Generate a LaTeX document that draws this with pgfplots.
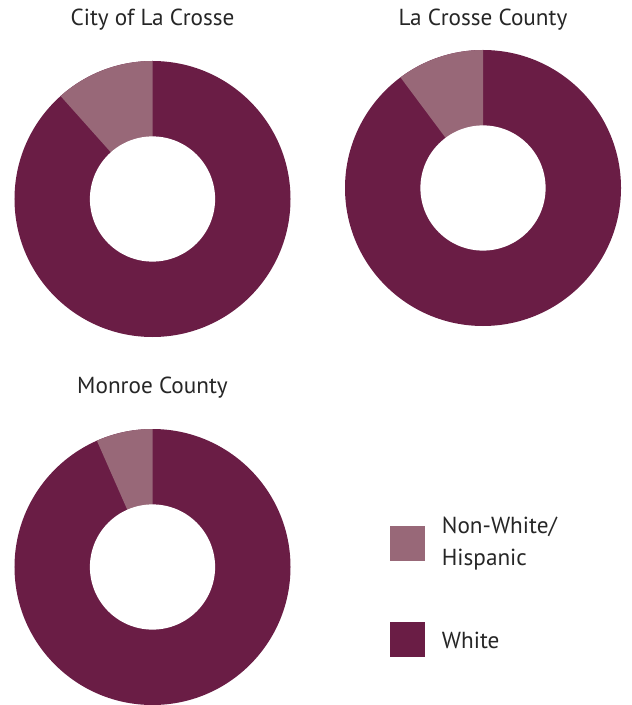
\documentclass[border=0pt]{standalone}
\usepackage{pgfplots}
\pgfplotsset{compat=1.18}
\usepackage{pgfplotstable}
\usepackage{fontspec}
\setmainfont{PT Sans}

\definecolor{whitecol}{HTML}{6A1D45}
\definecolor{nonwhitecol}{HTML}{986878}

% share of population, percent
\pgfplotstableread{
region nonwhite white
City 11.6 88.4
County 10.2 89.8
Monroe 6.6 93.4
}\shares

\pgfplotstablegetelem{0}{nonwhite}\of\shares \edef\shA{\pgfplotsretval}
\pgfplotstablegetelem{1}{nonwhite}\of\shares \edef\shB{\pgfplotsretval}
\pgfplotstablegetelem{2}{nonwhite}\of\shares \edef\shC{\pgfplotsretval}

\pgfplotsset{donut/.style={
    scale only axis, hide axis, clip=false, anchor=center,
    width=138pt, height=138pt,
    xmin=-1, xmax=1, ymin=-1, ymax=1}}

% #1,#2 centre (px), #3 title, #4 non-white share, #5 title baseline
\newcommand\donut[5]{%
  \coordinate (dc) at (#1,#2);
  \begin{axis}[donut, at={(dc)}]
    \fill[whitecol] (axis cs:0,0) circle[radius=69pt];
    \fill[nonwhitecol] (axis cs:0,0) -- ++(90:69pt) arc[start angle=90, end angle={90+3.6*#4}, radius=69pt] -- cycle;
    \fill[white] (axis cs:0,0) circle[radius=31.3pt];
  \end{axis}
  \node[anchor=base, font=\fontsize{11.6}{13}\selectfont, text=black!85] at (#1,#5) {#3};
}

\begin{document}
\begin{tikzpicture}[x=0.5pt, y=-0.5pt]
  \path[use as bounding box] (0,0) rectangle (631,705);
  \donut{152.5}{199}{City of La Crosse}{\shA}{26}
  \donut{483}{188}{La Crosse County}{\shB}{26}
  \donut{152.5}{567}{Monroe County}{\shC}{393}
  % legend
  \fill[nonwhitecol] (390,526) rectangle (425,561);
  \fill[whitecol] (390,622) rectangle (425,657);
  \node[anchor=base west, inner sep=0pt, align=left, font=\fontsize{11.6}{16}\selectfont, text=black!85] at (441.5,565) {Non-White/\\Hispanic};
  \node[anchor=base west, inner sep=0pt, font=\fontsize{11.6}{16}\selectfont, text=black!85] at (441.5,648) {White};
\end{tikzpicture}
\end{document}
